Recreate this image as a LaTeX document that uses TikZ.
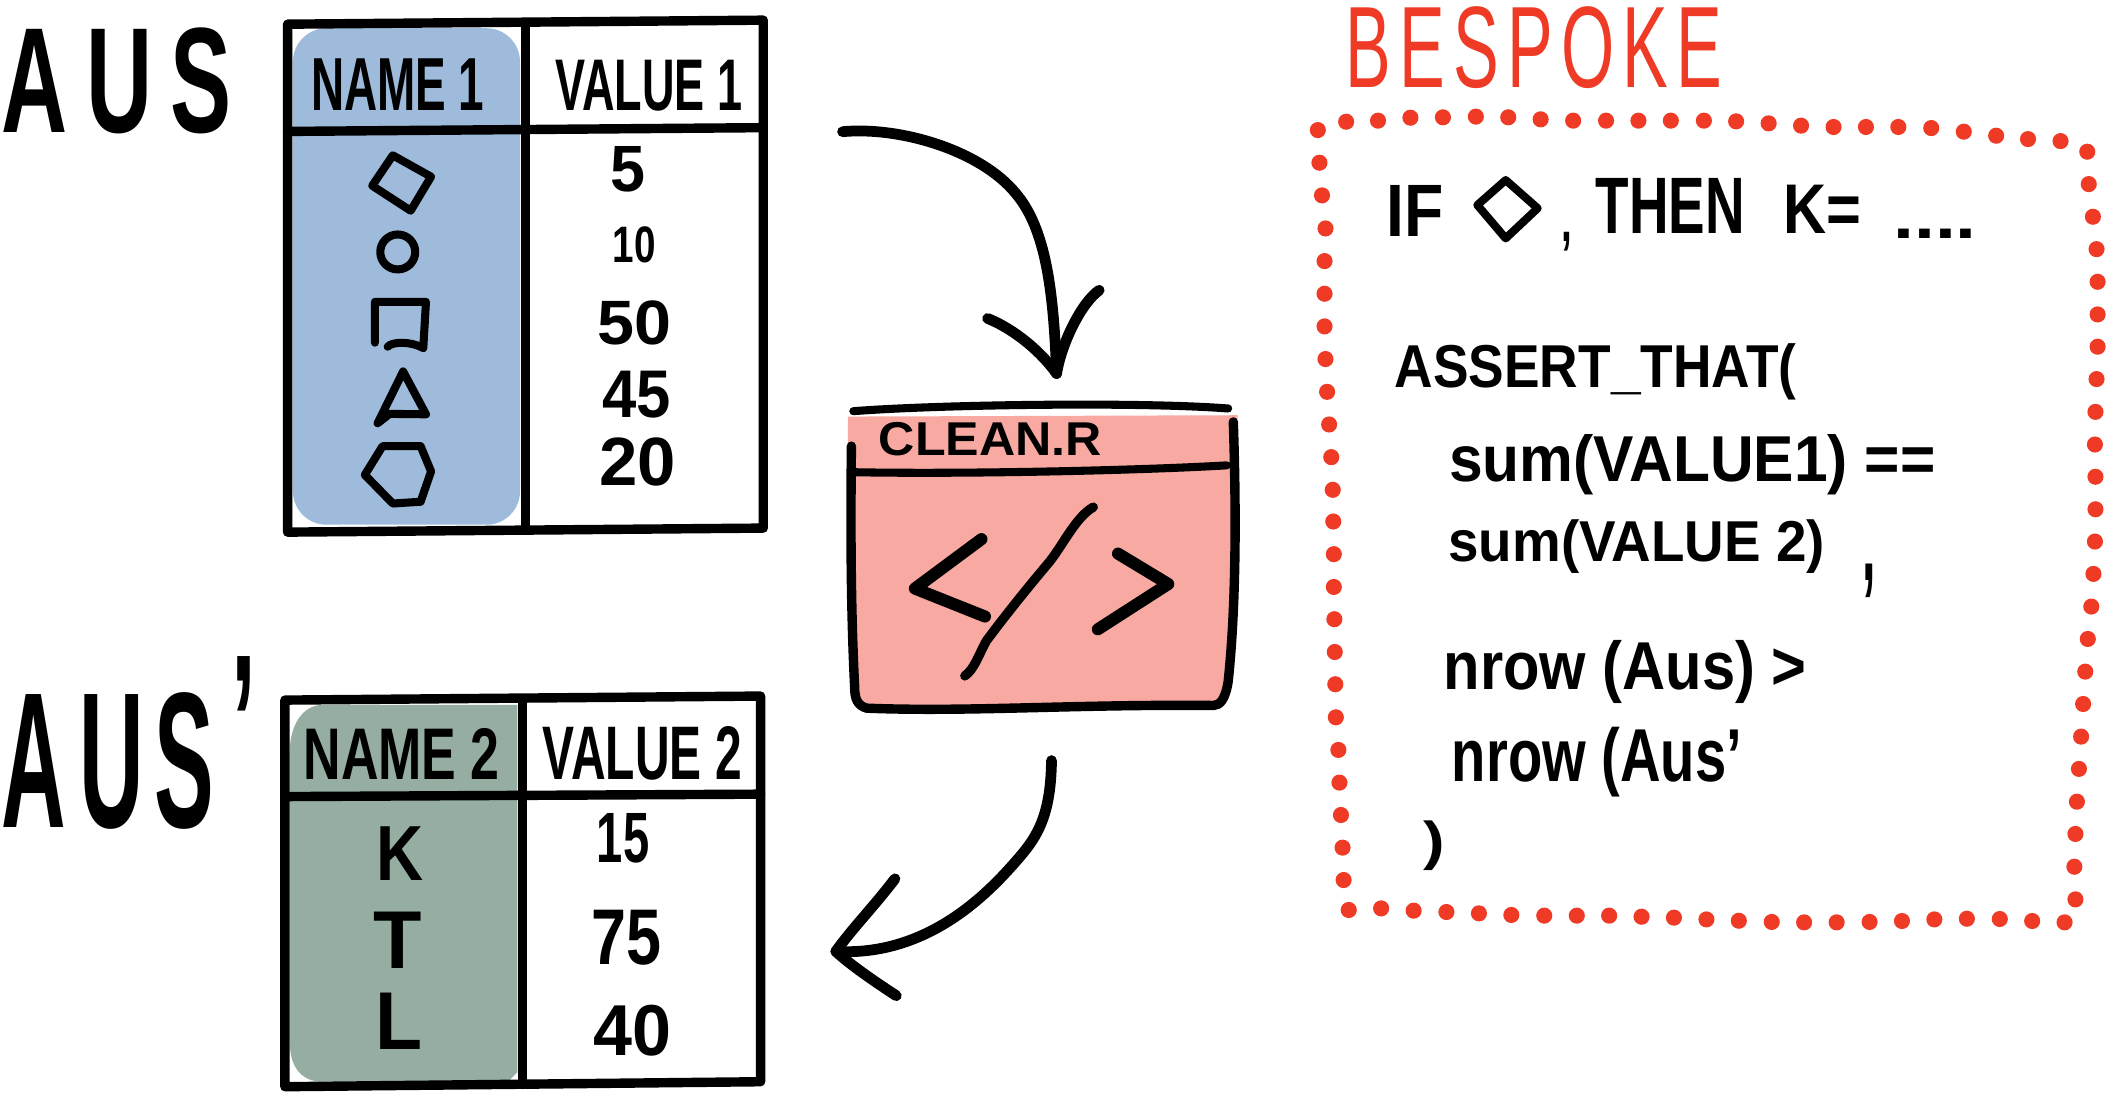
\documentclass[tikz,border=0pt]{standalone}
\usepackage{graphicx}
\usepackage{xcolor}
\usepackage{fontspec}
\setmainfont{Liberation Sans}
\definecolor{namblue}{HTML}{9FBBDB}
\definecolor{namgreen}{HTML}{95AEA1}
\definecolor{cleanpink}{HTML}{F8AAA2}
\definecolor{bespred}{HTML}{EF3A25}
\newcommand{\handtext}[3]{\resizebox*{#1pt}{#2pt}{#3}}
\tikzset{
	handline/.style={line width=8pt,line cap=round,line join=round},
	tabline/.style={line width=7pt,line cap=round,line join=round},
	glyphline/.style={line width=6pt,line cap=round,line join=round},
	handlabel/.style={inner sep=0pt,font=\bfseries},
	thinlabel/.style={inner sep=0pt,text=bespred},
	reddot/.style={fill=bespred}
}
\begin{document}
\begin{tikzpicture}[x=1pt,y=-1pt]
	\useasboundingbox (0,0) rectangle (1568,813.4);
	%
	\begin{scope}
		\fill [namblue,rounded corners=25pt] (218,21) rectangle (387,390.5);
		\draw [tabline] (214,18) -- (568,15) -- (568,393) -- (214,396) -- cycle;
		\draw [tabline] (391,17) -- (391,394);
		\draw [tabline] (214,97.8) -- (568,95);
		\node [handlabel] (ausname) at (296,63) {\handtext{129}{38.5}{NAME 1}};
		\node [handlabel] (ausvalue) at (483,64) {\handtext{139}{38}{VALUE 1}};
		\foreach \val/\x/\y/\w/\h in {5/467/126/26/34,10/472/182/32/27,50/472/240/55/33,45/473.5/293.5/51/35,20/474.5/343.5/57/36}
			\node [handlabel] (aus\val) at (\x,\y) {\handtext{\w}{\h}{\val}};
		\draw [glyphline] (292.3,115.6) -- (320.8,131.5) -- (305.6,156.8) -- (277,138.2) -- cycle;
		\draw [glyphline] (296,187.5) circle (13);
		\draw [glyphline] (279,255) -- (279,224.6) -- (317,224.6) -- (315,259);
		\draw [glyphline] (288.5,258) .. controls (292,254) and (306,254) .. (315,259);
		\draw [glyphline] (300,276.4) -- (317,308.3) -- (290,308) -- (281,315) -- cycle;
		\draw [glyphline] (284.7,332) -- (313,332) -- (320.8,350.8) -- (313,373.4) -- (292.3,374.7) -- (271.5,353.4) -- cycle;
	\end{scope}
	%
	\begin{scope}
		\fill [namgreen] (385,524.6) -- (240,524.6) .. controls (225,524.6) and (215.6,540) .. (215.6,560) -- (215.6,775) .. controls (215.6,795) and (225,805) .. (240,805) -- (378,805) -- (385,798) -- cycle;
		\draw [tabline] (212,521) -- (566,518) -- (566,805) -- (212,808.7) -- cycle;
		\draw [tabline] (389,520) -- (389,807);
		\draw [tabline] (212,592.8) -- (566,591);
		\node [handlabel] (primename) at (299,561) {\handtext{146}{38}{NAME 2}};
		\node [handlabel] (primevalue) at (478,560.5) {\handtext{148}{40}{VALUE 2}};
		\foreach \val/\x/\y/\w/\h in {K/297.7/635/35/40,T/296/699.5/36/42,L/296.7/760/35/42,15/463.7/624/39/37,75/466/697.6/52/41,40/471/767/58/38}
			\node [handlabel] (prime\val) at (\x,\y) {\handtext{\w}{\h}{\val}};
	\end{scope}
	%
	\node [handlabel] (aus) at (87,60.5) {\handtext{171}{79}{A\hspace{.2em}U\hspace{.2em}S}};
	\node [handlabel] (ausprime) at (96,553) {\handtext{190}{129}{A\hspace{.15em}U\hspace{.12em}S\hspace{.2em}\raisebox{.2em}{'}}};
	%
	\begin{scope}
		\fill [cleanpink] (631,310) -- (921,309) -- (922,400) -- (914,507) .. controls (913,520) and (908,525) .. (903,525) -- (645,528) .. controls (638,526) and (636,520) .. (636,511) -- (631,420) -- cycle;
		\draw [glyphline] (635,306) .. controls (700,301) and (850,299) .. (914,304);
		\draw [tabline] (917.8,314) .. controls (920,380) and (920,450) .. (914,507) .. controls (912,520) and (908,525) .. (903,525) .. controls (800,524) and (720,530) .. (645,527) .. controls (638,525) and (636,520) .. (636,511) .. controls (633,450) and (633,390) .. (633.6,332);
		\draw [glyphline] (635,351.4) .. controls (720,353) and (850,350) .. (913,346.3);
		\node [handlabel] (cleanname) at (737,327) {\handtext{166}{25}{CLEAN.R}};
		\draw [handline,line width=9pt] (730.4,401.2) -- (680.8,438) -- (733,458.8);
		\draw [handline,line width=7pt] (813.6,377.4) .. controls (800,385) and (790,408) .. (778.8,420.7) .. controls (765,437) and (745,462) .. (734,477) .. controls (728,488) and (725,498) .. (718,503);
		\draw [handline,line width=9pt] (832,412) -- (869.4,434.6) -- (817,468.3);
	\end{scope}
	%
	\coordinate (ausout) at (627,98);
	\coordinate (cleanin) at (786.3,278);
	\coordinate (cleanout) at (782.5,566);
	\coordinate (primein) at (622,708);
	\draw [handline] (ausout) .. controls (670,94) and (730,112) .. (756,144) .. controls (778,170) and (784,215) .. (cleanin);
	\draw [handline] (735,237) .. controls (755,245) and (775,262) .. (cleanin) .. controls (790,255) and (805,225) .. (818,216);
	\draw [handline] (cleanout) .. controls (782,610) and (770,625) .. (756,641) .. controls (735,665) and (690,712) .. (primein);
	\draw [handline] (666,654) .. controls (650,675) and (635,690) .. (primein) .. controls (635,720) and (655,733) .. (667,741);
	%
	\node [thinlabel] (bespoke) at (1141.6,35.5) {\handtext{280}{61}{B\hspace{.12em}E\hspace{.12em}S\hspace{.12em}P\hspace{.12em}O\hspace{.12em}K\hspace{.12em}E}};
	\foreach \x/\y in {980.7/96.8,1001.8/90.6,1025.5/89.8,1049.6/87.6,1073.8/87.3,1098.3/86.8,1122.4/87.3,1146.5/88.8,1170.7/89.8,1195.2/89.8,1219.3/89.8,1243.4/89.8,1268/89.8,1292/90.3,1316.2/91.8,1340.3/93.5,1364.5/94.5,1388.6/94.5,1412.7/94.5,1437.2/95.3,1461.4/98,1485.5/101,1509.2/103.5,1533.4/105,1553.3/112.9}
		\fill [reddot] (\x,\y) circle (6);
	\foreach \x/\y in {981.9/121.1,983.8/145.4,986.4/170,985.7/194.3,985.7/218.6,985.7/242.9,986.4/267.2,987.6/291.6,989.1/315.9,990.7/340.2,991.8/364.5,992.2/388.1,992.6/412.4,992.6/436.8,993/460.8,993.3/485.2,993.7/509.2,994.1/533.8,996/558.1,996.8/582.4,997.9/606.5,999.1/630.8,999.9/654.9}
		\fill [reddot] (\x,\y) circle (6);
	\foreach \x/\y in {1003.7/677.2,1027.8/676,1052/677.7,1076.4/678.7,1100.6/679.7,1124.7/680.9,1149.2/681.4,1173.4/681.4,1197.5/681.4,1221.6/682.2,1245.7/682.9,1269.9/684.2,1294/685.2,1318.5/686.1,1342.6/686.4,1366.8/686.4,1391.3/686.1,1415.4/685.4,1439.5/684.2,1463.7/683.7,1488.2/683.9,1512.3/685.4,1536.4/686.4}
		\fill [reddot] (\x,\y) circle (6);
	\foreach \x/\y in {1554.4/137,1557.5/161.3,1560.2/185.4,1561/209.7,1561/234,1561/258,1560.2/282.1,1559.4/306.5,1559/330.8,1559.4/354.8,1559.4/379,1559/403,1557.9/427.1,1556.3/451.4,1553.7/475.5,1551.8/499.8,1550.2/523.9,1548.7/548.2,1547.1/572.2,1545.6/596.6,1544.5/620.6,1543.7/645,1544.5/669.3}
		\fill [reddot] (\x,\y) circle (6);
	%
	\node [handlabel] (ifword) at (1053,157) {\handtext{42.5}{38}{IF}};
	\draw [glyphline] (1120.5,134) -- (1144.3,155) -- (1120.5,177.4) -- (1099.4,152.6) -- cycle;
	\node [handlabel] (ifcomma) at (1165.7,180) {\handtext{8}{14}{,}};
	\node [handlabel] (thenword) at (1243,153.5) {\handtext{111}{41}{THEN}};
	\node [handlabel] (kequals) at (1356,155.7) {\handtext{58}{36}{K=}};
	\node [handlabel] (ellipsis) at (1440,174) {\handtext{62}{7}{....}};
	\node [handlabel] (assertline) at (1187.5,276.7) {\handtext{299}{42}{ASSERT\_THAT(}};
	\node [handlabel] (sumone) at (1259.4,346.2) {\handtext{362}{45}{sum(VALUE1) ==}};
	\node [handlabel] (sumtwo) at (1218,406.7) {\handtext{280}{40}{sum(VALUE 2)}};
	\node [handlabel] (sumcomma) at (1391,432) {\handtext{10}{25}{,}};
	\node [handlabel] (nrowone) at (1209.5,499.8) {\handtext{270}{47}{nrow (Aus) >}};
	\node [handlabel] (nrowtwo) at (1188.5,566.8) {\handtext{216}{52}{nrow (Aus'}};
	\node [handlabel] (closeparen) at (1067,629.3) {\handtext{16}{37}{)}};
\end{tikzpicture}
\end{document}
